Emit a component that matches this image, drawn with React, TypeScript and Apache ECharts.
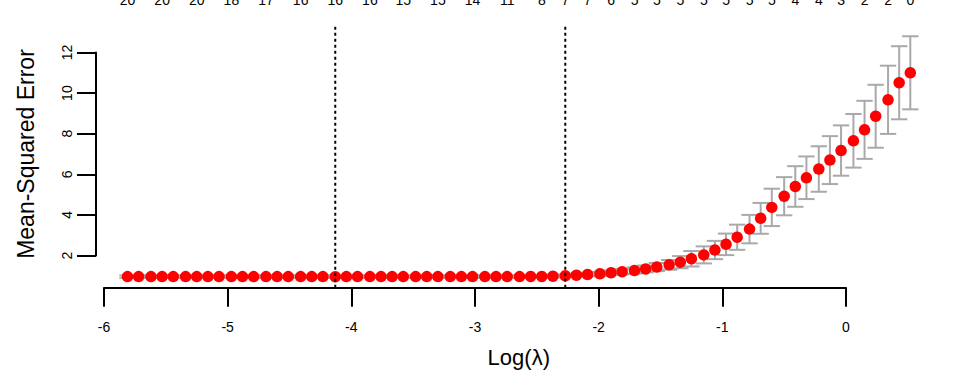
import React, { useEffect, useRef } from "react";
import * as echarts from "echarts";

// log(lambda) for each fitted lambda
const logLambda = [
  -5.81, -5.72, -5.62, -5.53, -5.44, -5.34, -5.25, -5.16, -5.07, -4.97,
  -4.88, -4.79, -4.69, -4.6, -4.51, -4.41, -4.32, -4.23, -4.13, -4.04,
  -3.95, -3.85, -3.76, -3.67, -3.58, -3.48, -3.39, -3.3, -3.2, -3.11,
  -3.02, -2.92, -2.83, -2.74, -2.64, -2.55, -2.46, -2.37, -2.27, -2.18,
  -2.09, -1.99, -1.9, -1.81, -1.71, -1.62, -1.53, -1.43, -1.34, -1.25,
  -1.15, -1.06, -0.97, -0.88, -0.78, -0.69, -0.6, -0.5, -0.41, -0.32,
  -0.22, -0.13, -0.04, 0.06, 0.15, 0.24, 0.34, 0.43, 0.52,
];

// cross-validated mean squared error
const cvm = [
  0.96, 0.96, 0.96, 0.96, 0.96, 0.96, 0.96, 0.96, 0.96, 0.96,
  0.96, 0.96, 0.96, 0.96, 0.96, 0.96, 0.96, 0.96, 0.955, 0.96,
  0.96, 0.96, 0.96, 0.96, 0.96, 0.96, 0.96, 0.96, 0.96, 0.96,
  0.96, 0.96, 0.96, 0.96, 0.96, 0.97, 0.97, 0.98, 1.0, 1.03,
  1.06, 1.1, 1.15, 1.2, 1.26, 1.34, 1.43, 1.54, 1.67, 1.84,
  2.03, 2.27, 2.55, 2.9, 3.3, 3.83, 4.37, 4.92, 5.4, 5.83,
  6.26, 6.7, 7.17, 7.65, 8.19, 8.86, 9.67, 10.51, 11.0,
];

// standard error of the CV estimate
const cvsd = [
  0.06, 0.06, 0.06, 0.06, 0.06, 0.06, 0.06, 0.06, 0.06, 0.06,
  0.06, 0.06, 0.06, 0.06, 0.06, 0.06, 0.06, 0.06, 0.06, 0.06,
  0.06, 0.06, 0.06, 0.06, 0.06, 0.06, 0.06, 0.06, 0.06, 0.06,
  0.06, 0.06, 0.06, 0.06, 0.06, 0.06, 0.06, 0.06, 0.07, 0.08,
  0.09, 0.1, 0.11, 0.13, 0.15, 0.17, 0.2, 0.24, 0.3, 0.38,
  0.42, 0.45, 0.53, 0.62, 0.7, 0.76, 0.92, 0.94, 1.0, 1.05,
  1.12, 1.18, 1.24, 1.32, 1.43, 1.55, 1.68, 1.8, 1.8,
];

// top axis: number of non-zero coefficients (only the labels that are printed)
const nzLabelIdx = [0, 3, 6, 9, 12, 15, 18, 21, 24, 27, 30, 33, 36, 38, 40, 42, 44, 46, 48, 50, 52, 54, 56, 58, 60, 62, 64, 66, 68];
const nzLabels = [20, 20, 20, 18, 17, 16, 16, 16, 15, 15, 14, 11, 8, 7, 7, 6, 5, 5, 5, 5, 5, 5, 5, 4, 4, 3, 2, 2, 0];

const lambdaMinIdx = 18;
const lambda1seIdx = 38;

const FONT = "'Liberation Sans', Arial, Helvetica, sans-serif";

export default function App() {
  const ref = useRef<HTMLDivElement>(null);
  useEffect(() => {
    document.body.style.margin = "0";
    const chart = echarts.init(ref.current!, null, { renderer: "svg" });

    const X_MIN = -6, X_MAX = 0, Y_MIN = 2, Y_MAX = 12;
    const GRID = { left: 104, top: 52.5, width: 742, height: 203 };
    const Y_BOX_LO = 0.41, Y_BOX_HI = 13.29, X_BOX_LO = -6.065, X_BOX_HI = 0.773;
    const pxPerY = GRID.height / (Y_MAX - Y_MIN);
    const pxPerX = GRID.width / (X_MAX - X_MIN);
    const xAxisOffset = (Y_MIN - Y_BOX_LO) * pxPerY;
    const yAxisOffset = (X_MIN - X_BOX_LO) * pxPerX;
    // R centres the axis titles on the whole plot box, not on the tick range
    const xNameShift = ((X_BOX_LO + X_BOX_HI) / 2 - (X_MIN + X_MAX) / 2) * pxPerX;
    const CAP_HALF = 0.066;
    const TOP_LABEL_Y = 14.6;

    const axisCommon = {
      axisLine: { show: true, onZero: false, lineStyle: { color: "#000", width: 2 } },
      axisTick: { show: true, length: 19, lineStyle: { color: "#000", width: 2 } },
      splitLine: { show: false },
    };

    const vline = (x: number) => ({
      type: "line",
      data: [[x, Y_BOX_LO], [x, Y_BOX_HI]],
      symbol: "none",
      clip: false,
      silent: true,
      z: 3,
      lineStyle: { color: "#000", width: 2, type: [3, 3], opacity: 1 },
    });

    chart.setOption({
      animation: false,
      backgroundColor: "#fff",
      textStyle: { fontFamily: FONT },
      grid: { ...GRID, containLabel: false },
      xAxis: {
        type: "value",
        min: X_MIN,
        max: X_MAX,
        interval: 1,
        position: "bottom",
        offset: xAxisOffset,
        ...axisCommon,
        axisLabel: { color: "#000", fontSize: 14, margin: 32, fontFamily: FONT },
        name: "Log(λ)",
        nameLocation: "middle",
        nameGap: 59,
        nameTextStyle: {
          color: "#000",
          fontSize: 22,
          fontFamily: FONT,
          padding: [0, 0, 0, 2 * xNameShift],
        },
      },
      yAxis: {
        type: "value",
        min: Y_MIN,
        max: Y_MAX,
        interval: 2,
        offset: yAxisOffset,
        ...axisCommon,
        axisLabel: { color: "#000", fontSize: 14, margin: 22, rotate: 90, fontFamily: FONT },
        name: "Mean-Squared Error",
        nameLocation: "middle",
        nameGap: 58,
        nameRotate: 90,
        nameTextStyle: { color: "#000", fontSize: 23, fontFamily: FONT },
      },
      series: [
        {
          type: "custom",
          clip: false,
          silent: true,
          z: 1,
          data: logLambda.map((x, i) => [x, cvm[i] - cvsd[i], cvm[i] + cvsd[i]]),
          encode: { x: 0, y: [1, 2] },
          renderItem: (_params: any, api: any) => {
            const x = api.value(0);
            const pLo = api.coord([x, api.value(1)]);
            const pHi = api.coord([x, api.value(2)]);
            const half = CAP_HALF * pxPerX;
            const style = { stroke: "#A9A9A9", lineWidth: 2 };
            return {
              type: "group",
              children: [
                { type: "line", shape: { x1: pLo[0], y1: pLo[1], x2: pHi[0], y2: pHi[1] }, style },
                { type: "line", shape: { x1: pHi[0] - half, y1: pHi[1], x2: pHi[0] + half, y2: pHi[1] }, style },
                { type: "line", shape: { x1: pLo[0] - half, y1: pLo[1], x2: pLo[0] + half, y2: pLo[1] }, style },
              ],
            };
          },
        },
        {
          type: "scatter",
          clip: false,
          silent: true,
          z: 2,
          symbol: "circle",
          symbolSize: 11.5,
          itemStyle: { color: "#FF0000", opacity: 1 },
          data: logLambda.map((x, i) => [x, cvm[i]]),
        },
        vline(logLambda[lambdaMinIdx]),
        vline(logLambda[lambda1seIdx]),
        {
          type: "scatter",
          clip: false,
          silent: true,
          z: 4,
          symbol: "circle",
          symbolSize: 0,
          itemStyle: { color: "#000", opacity: 1 },
          label: {
            show: true,
            position: "inside",
            color: "#000",
            opacity: 1,
            fontSize: 14,
            fontFamily: FONT,
            formatter: (p: any) => String(p.value[2]),
          },
          data: nzLabelIdx.map((k, j) => [logLambda[k], TOP_LABEL_Y, nzLabels[j]]),
        },
      ],
    });

    return () => chart.dispose();
  }, []);

  return <div ref={ref} style={{ position: "fixed", left: 0, top: 0, width: 960, height: 384 }} />;
}
